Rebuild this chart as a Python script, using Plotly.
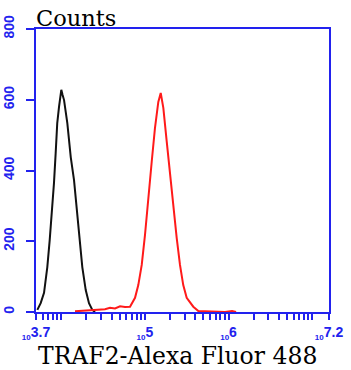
import plotly.graph_objects as go

# Black histogram (control)
black_x = [5200, 5700, 6250, 6840, 7310, 7850, 8220, 8610, 8990, 9440, 10050, 10400,
           10840, 11860, 13030, 14260, 15350, 16370, 17910, 19680, 21530, 23600, 25400]
black_y = [6, 25, 54, 127, 204, 288, 365, 449, 534, 580, 628, 614,
           599, 534, 438, 373, 297, 212, 127, 62, 25, 6, 0]

# Red histogram (TRAF2 stained)
red_x = [14660, 19280, 25410, 33420, 38370, 44060, 50580, 57940, 66530, 76380, 83560,
         91830, 100460, 110150, 120780, 132130, 144880, 154880, 166340, 182810, 199990,
         218780, 240440, 263030, 287740, 316230, 379300, 435510, 523600, 690240, 907820,
         1101540, 1230270]
red_y = [2, 4, 6, 8, 12, 10, 16, 14, 15, 40, 76,
         133, 218, 311, 424, 520, 594, 619, 577, 481, 388,
         294, 209, 133, 76, 40, 15, 3, 2, 1, 0,
         3, 0]

y_ticks = [0, 200, 400, 600, 800]
x_label_vals = [10**3.7, 1e5, 1e6, 10**7.2]
x_label_exps = ["3.7", "5", "6", "7.2"]

BLUE = "#2222ee"

minor_vals = []
for e in range(3, 8):
    for m in range(1, 10):
        v = m * 10**e
        if 10**3.7 < v < 10**7.2:
            minor_vals.append(v)

ticktext_labels = ["<sub><span style='font-size:8px'>10</span></sub>" + s for s in x_label_exps]
tickvals = x_label_vals + minor_vals
ticktext = ticktext_labels + [""] * len(minor_vals)

fig = go.Figure()
fig.add_trace(go.Scatter(x=black_x, y=black_y, mode="lines",
                         line=dict(color="#111111", width=2), showlegend=False))
fig.add_trace(go.Scatter(x=red_x, y=red_y, mode="lines",
                         line=dict(color="#ff1a1a", width=2), showlegend=False))

fig.update_layout(
    width=351, height=370,
    margin=dict(l=36, r=22, t=29, b=58, autoexpand=False),
    paper_bgcolor="white", plot_bgcolor="white",
    xaxis=dict(type="log", range=[3.7, 7.2], tickvals=tickvals, ticktext=ticktext,
               ticks="outside", ticklen=6, tickwidth=1.5, tickcolor=BLUE,
               showline=True, linecolor=BLUE, linewidth=2, mirror=True,
               showgrid=False, zeroline=False, automargin=False,
               tickfont=dict(family="Liberation Sans", size=14, color=BLUE, weight="bold")),
    yaxis=dict(range=[0, 800], tickvals=y_ticks, ticktext=[str(v) for v in y_ticks],
               ticks="outside", ticklen=8, tickwidth=1.5, tickcolor=BLUE,
               showline=True, linecolor=BLUE, linewidth=2, mirror=True,
               showgrid=False, zeroline=False, tickangle=-90, ticklabelstandoff=6,
               automargin=False,
               tickfont=dict(family="Liberation Sans", size=14, color=BLUE, weight="bold")),
)

fig.add_annotation(text="Counts", xref="paper", yref="paper", x=-0.008, y=1.0,
                   xanchor="left", yanchor="bottom", yshift=-4, showarrow=False,
                   font=dict(family="DejaVu Serif", size=22.5, color="black"))
fig.add_annotation(text="TRAF2-Alexa Fluor 488", xref="paper", yref="paper", x=0.0, y=0,
                   xanchor="left", yanchor="top", yshift=-28, showarrow=False,
                   font=dict(family="DejaVu Serif", size=23.5, color="black"))

fig.write_html("out.html")
